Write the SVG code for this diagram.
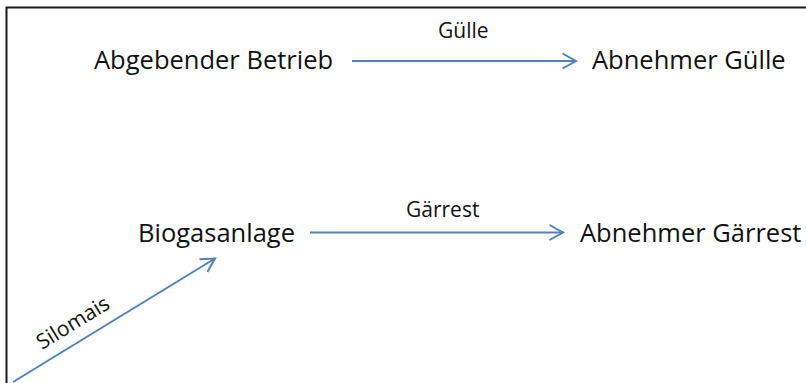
<svg xmlns="http://www.w3.org/2000/svg" width="806" height="383" viewBox="0 0 806 383">
<defs>
<style>
.lbl{font-family:"Open Sans","Liberation Sans",sans-serif;fill:#111;}
.node{font-size:25.5px;}
.edge{font-size:21px;}
.conn{stroke:#4F81BD;stroke-width:2;fill:none;marker-end:url(#arr);}
</style>
<marker id="arr" markerUnits="userSpaceOnUse" markerWidth="20" markerHeight="20" refX="14" refY="8" orient="auto" viewBox="0 0 20 16">
<path d="M0.5,0.5 L14,8 L0.5,15.5" fill="none" stroke="#4F81BD" stroke-width="2"/>
</marker>
</defs>
<rect x="0" y="0" width="806" height="383" fill="#fff"/>
<rect x="6.5" y="7.5" width="900" height="500" fill="none" stroke="#1a1a1a" stroke-width="2"/>
<g id="connectors">
<g id="edge-guelle">
<line class="conn" x1="352" y1="61" x2="576" y2="61"/>
<text class="lbl edge" x="438" y="38">Gülle</text>
</g>
<g id="edge-gaerrest">
<line class="conn" x1="310" y1="232.5" x2="563" y2="232.5"/>
<text class="lbl edge" x="406" y="217">Gärrest</text>
</g>
<g id="edge-silomais">
<line class="conn" x1="13" y1="382" x2="215" y2="258.5"/>
<text class="lbl" font-size="21" transform="translate(42,350) rotate(-31.5)">Silomais</text>
</g>
</g>
<g id="node-abgebender"><text class="lbl node" x="94" y="69">Abgebender Betrieb</text></g>
<g id="node-abnehmer-guelle"><text class="lbl node" x="592" y="69">Abnehmer Gülle</text></g>
<g id="node-biogas"><text class="lbl node" x="138" y="242">Biogasanlage</text></g>
<g id="node-abnehmer-gaerrest"><text class="lbl node" x="580" y="242">Abnehmer Gärrest</text></g>
</svg>
